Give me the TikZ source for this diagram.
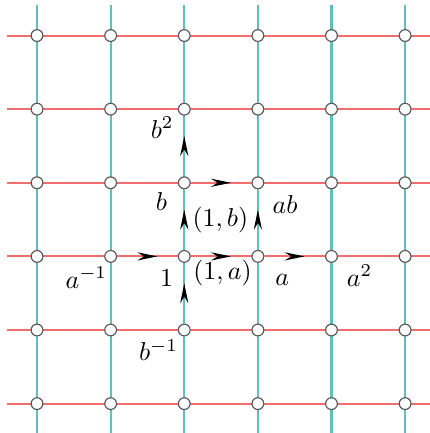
\documentclass[tikz,border=0pt]{standalone}
\usepackage{tikz}
\usetikzlibrary{arrows.meta,decorations.markings}
\definecolor{gridred}{RGB}{240,110,110}
\definecolor{gridcyan}{RGB}{95,190,190}

\begin{document}
\begin{tikzpicture}[
  vertex/.style={draw=black!65, fill=white, circle, inner sep=0pt, minimum size=0.16cm, line width=0.45pt},
  hline/.style={draw=gridred, line width=0.8pt},
  vline/.style={draw=gridcyan, line width=0.8pt},
  midarrow/.style={postaction={decorate, decoration={markings,
    mark=at position 0.5 with {\arrow[xshift=0.135cm, black]{Stealth[length=0.27cm, width=0.11cm]}}}}}
]
\useasboundingbox (-0.503,-0.399) rectangle (5.333,5.483);

% grid lines
\foreach \j in {0,...,5} {
  \coordinate (l\j) at (-0.408,\j);
  \coordinate (r\j) at (5.333,\j);
  \draw[hline] (l\j) -- (r\j);
}
\foreach \i in {0,...,5} {
  \coordinate (t\i) at (\i,5.415);
  \coordinate (b\i) at (\i,-0.399);
  \draw[vline] (b\i) -- (t\i);
}

% vertices
\foreach \i in {0,...,5}
  \foreach \j in {0,...,5}
    \node[vertex] (v\i\j) at (\i,\j) {};

% generators
\draw[hline, midarrow] (v12) -- (v22);
\draw[hline, midarrow] (v22) -- (v32);
\draw[hline, midarrow] (v32) -- (v42);
\draw[hline, midarrow] (v23) -- (v33);
\draw[vline, midarrow] (v21) -- (v22);
\draw[vline, midarrow] (v22) -- (v23);
\draw[vline, midarrow] (v23) -- (v24);
\draw[vline, midarrow] (v32) -- (v33);

% labels
\node (lbsq) at (1.70,3.75) {$b^2$};
\node (lb) at (1.69,2.75) {$b$};
\node (lonb) at (2.49,2.50) {$(1,b)$};
\node (lab) at (3.37,2.70) {$ab$};
\node (lainv) at (0.67,1.71) {$a^{-1}$};
\node (lone) at (1.76,1.71) {$1$};
\node (lona) at (2.52,1.78) {$(1,a)$};
\node (la) at (3.33,1.68) {$a$};
\node (lasq) at (4.38,1.74) {$a^2$};
\node (lbinv) at (1.65,0.73) {$b^{-1}$};
\end{tikzpicture}
\end{document}
